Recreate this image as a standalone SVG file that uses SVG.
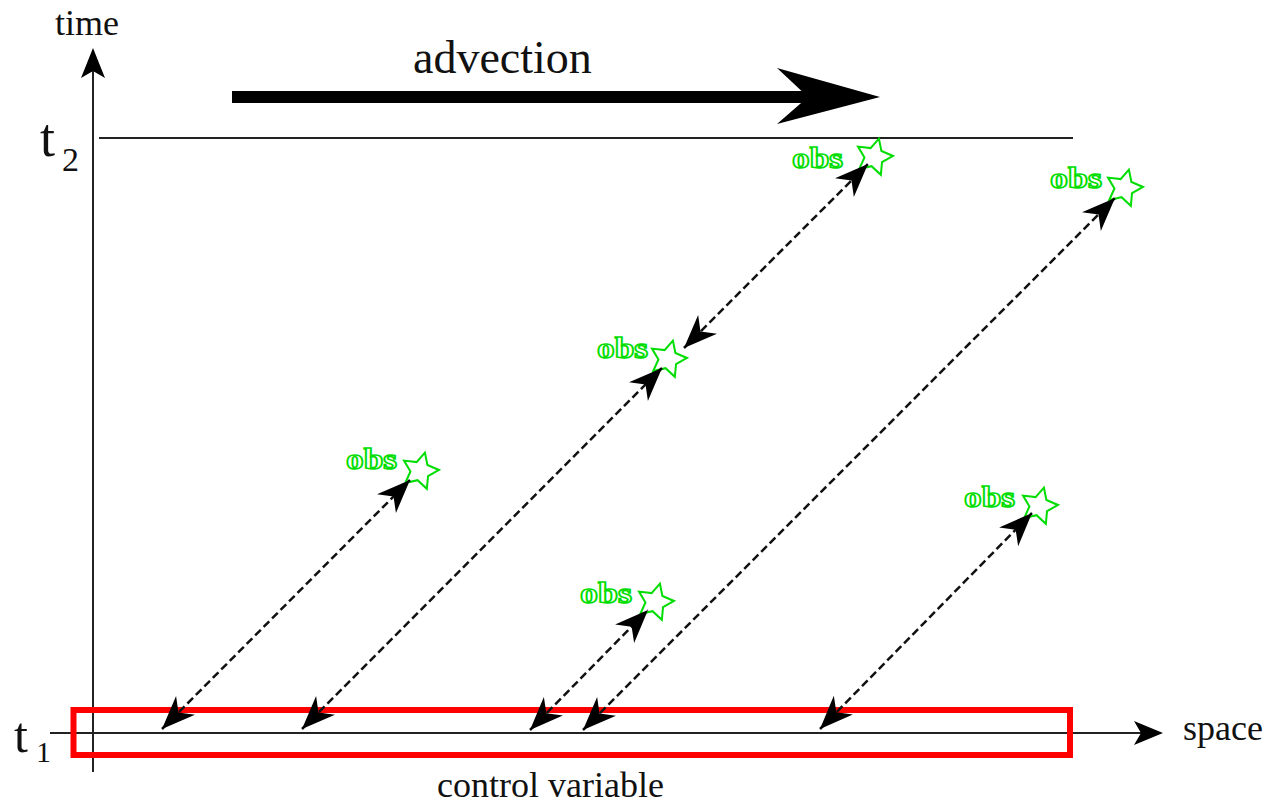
<svg xmlns="http://www.w3.org/2000/svg" width="1270" height="806" viewBox="0 0 1270 806">
  <style>
    .lbl { font-family: "Liberation Serif", "Times New Roman", serif; fill: #111; }
    .axis { stroke: #222; stroke-width: 2; fill: none; }
    .link { stroke: #111; stroke-width: 2.5; stroke-dasharray: 8 4; fill: none;
            marker-start: url(#head); marker-end: url(#head); }
    .obs { font-family: "Liberation Serif", "Times New Roman", serif; font-weight: bold;
           font-size: 29px; fill: #fff; stroke: #00dd00; stroke-width: 1.6; }
    .star { fill: #fff; stroke: #00dd00; stroke-width: 2; stroke-linejoin: miter; }
  </style>
  <defs>
    <!-- notched arrowhead for the dashed two-way links -->
    <marker id="head" markerUnits="userSpaceOnUse" markerWidth="40" markerHeight="40"
            viewBox="-32 -16 36 32" refX="0" refY="0" orient="auto-start-reverse">
      <path d="M0,0 L-30,-12 L-21,0 L-30,12 Z" fill="#000"/>
    </marker>
    <!-- five-pointed outline star -->
    <path id="starShape" class="star"
          d="M0,-19 L5.6,-7.7 L18.1,-5.9 L9.1,2.9 L11.2,15.4 L0,9.5 L-11.2,15.4 L-9.1,2.9 L-18.1,-5.9 L-5.6,-7.7 Z"/>
  </defs>

  <rect width="1270" height="806" fill="#fff"/>

  <!-- axes -->
  <g id="axes">
    <line class="axis" x1="93" y1="772" x2="93" y2="70"/>
    <path d="M93,48 L81,78 L93,71 L105,78 Z" fill="#000"/>
    <line class="axis" x1="50" y1="733" x2="1142" y2="733"/>
    <path d="M1163,733 L1134,721 L1141,733 L1134,745 Z" fill="#000"/>
    <line class="axis" x1="99" y1="138" x2="1073" y2="138"/>
    <text class="lbl" x="55" y="35" font-size="36">time</text>
    <text class="lbl" x="1183" y="740" font-size="36">space</text>
    <text class="lbl" x="40" y="156" font-size="54">t</text>
    <text class="lbl" x="62" y="171" font-size="34">2</text>
    <text class="lbl" x="14" y="752" font-size="50">t</text>
    <text class="lbl" x="36" y="762" font-size="30">1</text>
  </g>

  <!-- advection arrow -->
  <g id="advection">
    <rect x="232" y="91" width="580" height="12" fill="#000"/>
    <path d="M777,68 L880,97 L777,124 L808,97 Z" fill="#000"/>
    <text class="lbl" x="413" y="73" font-size="46">advection</text>
  </g>

  <!-- control variable window at t1 -->
  <g id="control">
    <rect x="73.5" y="710" width="996.5" height="45" fill="none" stroke="#ff0000" stroke-width="6"/>
    <text class="lbl" x="437" y="797" font-size="36">control variable</text>
  </g>

  <!-- observations -->
  <g id="obs1"><text class="obs" x="346" y="469" textLength="51" lengthAdjust="spacingAndGlyphs">obs</text><use href="#starShape" transform="translate(420,471) rotate(15)"/></g>
  <g id="obs2"><text class="obs" x="597" y="358" textLength="51" lengthAdjust="spacingAndGlyphs">obs</text><use href="#starShape" transform="translate(668,359) rotate(15)"/></g>
  <g id="obs3"><text class="obs" x="792" y="168" textLength="51" lengthAdjust="spacingAndGlyphs">obs</text><use href="#starShape" transform="translate(874,157) rotate(15)"/></g>
  <g id="obs4"><text class="obs" x="1050" y="188" textLength="52" lengthAdjust="spacingAndGlyphs">obs</text><use href="#starShape" transform="translate(1124,188) rotate(15)"/></g>
  <g id="obs5"><text class="obs" x="580" y="603" textLength="52" lengthAdjust="spacingAndGlyphs">obs</text><use href="#starShape" transform="translate(655,602) rotate(15)"/></g>
  <g id="obs6"><text class="obs" x="964" y="507" textLength="51" lengthAdjust="spacingAndGlyphs">obs</text><use href="#starShape" transform="translate(1039,506) rotate(15)"/></g>

  <!-- dashed two-way links between control variable and observations -->
  <g id="links">
    <line class="link" x1="162" y1="729" x2="410" y2="480"/>
    <line class="link" x1="302" y1="729" x2="662" y2="368"/>
    <line class="link" x1="684" y1="348" x2="868" y2="164"/>
    <line class="link" x1="583" y1="730" x2="1115" y2="198"/>
    <line class="link" x1="530" y1="730" x2="648" y2="610"/>
    <line class="link" x1="820" y1="729" x2="1032" y2="513"/>
  </g>
</svg>
